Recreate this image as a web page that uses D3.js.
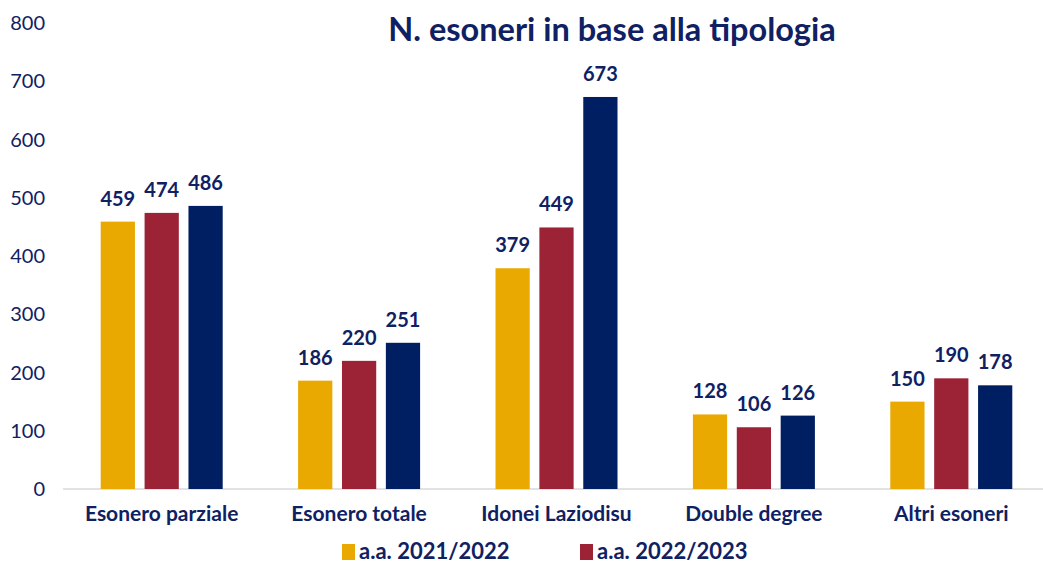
<!DOCTYPE html>
<html>
<head>
<meta charset="utf-8">
<script src="https://cdn.jsdelivr.net/npm/d3@7"></script>
<style>
  body { margin: 0; background: #fff; }
  svg { display: block; font-family: Lato, "Noto Sans", sans-serif; }
</style>
</head>
<body>
<svg id="chart"></svg>
<script>
const categories = ["Esonero parziale", "Esonero totale", "Idonei Laziodisu", "Double degree", "Altri esoneri"];
const seriesNames = ["a.a. 2021/2022", "a.a. 2022/2023", "a.a. 2023/2024"];
const values2122 = [459, 186, 379, 128, 150];
const values2223 = [474, 220, 449, 106, 190];
const values2324 = [486, 251, 673, 126, 178];
const yTicks = [0, 100, 200, 300, 400, 500, 600, 700, 800];
// only the first two series appear in the legend of the original
const legendNames = seriesNames.slice(0, 2);

const colors = ["#E9A900", "#9B2335", "#001E62"];
const textColor = "#0F2163";
const width = 1043, height = 564;

const rows = categories.map((c, i) => ({
  cat: c,
  vals: [values2122[i], values2223[i], values2324[i]]
}));

const svg = d3.select("#chart").attr("width", width).attr("height", height);

// x scale
const x = d3.scaleBand().domain(categories).range([63, 1050]).paddingInner(0).paddingOuter(0);
const xs = d3.scaleBand().domain(d3.range(3)).range([0, 122]).paddingInner(0.22);

// y scale
const y = d3.scaleLinear().domain([0, 800]).range([489, 23]);

// baseline
svg.append("line")
  .attr("x1", 63).attr("x2", width)
  .attr("y1", y(0)).attr("y2", y(0))
  .attr("stroke", "#d9d9d9").attr("stroke-width", 1.5);

// y axis labels
svg.append("g")
  .selectAll("text")
  .data(yTicks)
  .join("text")
  .attr("x", 45)
  .attr("y", (d) => y(d))
  .attr("dy", "0.35em")
  .attr("text-anchor", "end")
  .attr("fill", textColor)
  .style("font-size", "20px")
  .text((d) => d);

// bars
const groups = svg.append("g")
  .selectAll("g")
  .data(rows)
  .join("g")
  .attr("transform", (d) => "translate(" + (x(d.cat) + x.bandwidth() / 2 - 61) + ",0)");

groups.selectAll("rect")
  .data((d) => d.vals)
  .join("rect")
  .attr("x", (d, i) => xs(i))
  .attr("y", (d) => y(d))
  .attr("width", xs.bandwidth())
  .attr("height", (d) => y(0) - y(d))
  .attr("fill", (d, i) => colors[i]);

groups.selectAll("text.val")
  .data((d) => d.vals)
  .join("text")
  .attr("class", "val")
  .attr("x", (d, i) => xs(i) + xs.bandwidth() / 2)
  .attr("y", (d) => y(d) - 16)
  .attr("text-anchor", "middle")
  .attr("fill", textColor)
  .style("font-size", "20px")
  .style("font-weight", "bold")
  .text((d) => d);

// category labels
svg.append("g")
  .selectAll("text")
  .data(categories)
  .join("text")
  .attr("x", (d) => x(d) + x.bandwidth() / 2)
  .attr("y", 521)
  .attr("text-anchor", "middle")
  .attr("fill", textColor)
  .style("font-size", "21px")
  .style("font-weight", "bold")
  .text((d) => d);

// title
svg.append("text")
  .attr("x", 612)
  .attr("y", 41)
  .attr("text-anchor", "middle")
  .attr("fill", textColor)
  .style("font-size", "32.5px")
  .style("font-weight", "bold")
  .text("N. esoneri in base alla tipologia");

// legend
const legend = svg.append("g")
  .selectAll("g")
  .data(legendNames)
  .join("g")
  .attr("transform", (d, i) => "translate(" + (342 + i * 238) + ",544)");
legend.append("rect")
  .attr("width", 13).attr("height", 16)
  .attr("fill", (d, i) => colors[i]);
legend.append("text")
  .attr("x", 17)
  .attr("y", 15)
  .attr("fill", textColor)
  .style("font-size", "22px")
  .style("font-weight", "bold")
  .text((d) => d);
</script>
</body>
</html>
